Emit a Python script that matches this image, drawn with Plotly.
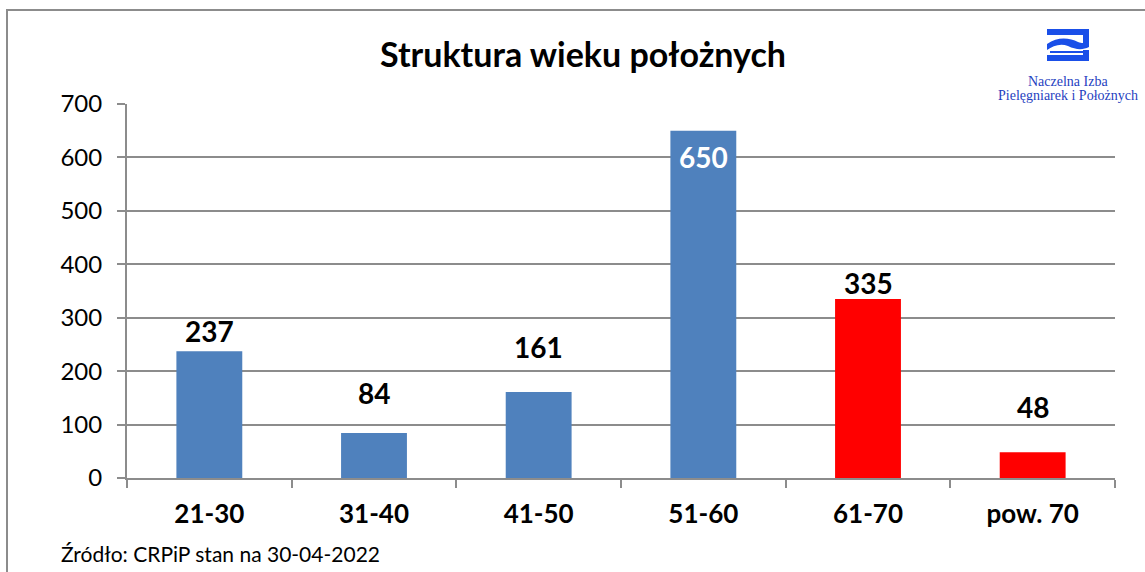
import plotly.graph_objects as go

categories = ["21-30", "31-40", "41-50", "51-60", "61-70", "pow. 70"]
values = [237, 84, 161, 650, 335, 48]
bar_colors = ["#4F81BD", "#4F81BD", "#4F81BD", "#4F81BD", "#FF0000", "#FF0000"]
y_ticks = [0, 100, 200, 300, 400, 500, 600, 700]

# label styling (pixel shifts from bar top, colour)
label_shift = [20, 40, 45, -26, 16, 45]
label_color = ["black", "black", "black", "white", "black", "black"]

FONT = "Lato, Carlito, Calibri, sans-serif"
W, H = 1145, 572
L, R, T, B = 127, 30, 104, 94
PW, PH = W - L - R, H - T - B

def px(x):
    return (x - L) / PW

def py(y):
    return (H - B - y) / PH

fig = go.Figure()
fig.add_trace(go.Bar(
    x=categories, y=values, marker=dict(color=bar_colors, line=dict(width=0)),
    width=0.4, hoverinfo="x+y"))

for c, v, s, col in zip(categories, values, label_shift, label_color):
    fig.add_annotation(x=c, y=v, yshift=s, text=f"<b>{v}</b>", showarrow=False,
                       font=dict(family=FONT, size=28, color=col), yanchor="middle")

shapes = []
# outer chart border (partially visible)
shapes.append(dict(type="rect", xref="paper", yref="paper",
                   x0=px(7), x1=px(1160), y0=py(10), y1=py(600),
                   line=dict(color="#8C8C8C", width=2), fillcolor="rgba(0,0,0,0)", layer="below"))

# logo
logo_col = "#1A4FE8"
def rectpx(x0, y0, x1, y1):
    return dict(type="rect", xref="paper", yref="paper", x0=px(x0), x1=px(x1),
                y0=py(y1), y1=py(y0), line=dict(width=0), fillcolor=logo_col)
shapes.append(rectpx(1047, 29, 1089, 35))
shapes.append(rectpx(1083, 29, 1089, 46))
shapes.append(rectpx(1083, 50, 1089, 61))
shapes.append(rectpx(1047, 55, 1089, 61))
shapes.append(rectpx(1050, 51, 1087, 53))
# wave
wave = (f"M {px(1047)},{py(44)} C {px(1058)},{py(36)} {px(1070)},{py(38)} {px(1078)},{py(42)} "
        f"C {px(1083)},{py(44)} {px(1086)},{py(43)} {px(1089)},{py(41)} "
        f"L {px(1089)},{py(47)} C {px(1083)},{py(50)} {px(1076)},{py(50)} {px(1068)},{py(46)} "
        f"C {px(1060)},{py(43)} {px(1053)},{py(46)} {px(1047)},{py(50)} Z")
shapes.append(dict(type="path", xref="paper", yref="paper", path=wave,
                   line=dict(width=0), fillcolor=logo_col))

fig.update_layout(
    width=W, height=H,
    margin=dict(l=L, r=R, t=T, b=B),
    paper_bgcolor="white", plot_bgcolor="white",
    showlegend=False, bargap=0.6,
    shapes=shapes,
    title=dict(text="<b>Struktura wieku położnych</b>", x=(583) / W, xanchor="center",
               y=1 - 55 / H, yanchor="middle",
               font=dict(family=FONT, size=34, color="black")),
    xaxis=dict(type="category", tickson="boundaries", ticks="outside", ticklen=8,
               tickcolor="#8C8C8C", tickwidth=2, showline=True, linecolor="#8C8C8C", linewidth=2,
               showgrid=False, tickfont=dict(family=FONT, size=26, color="black"),
               tickprefix="<b>", ticksuffix="</b>", ticklabelstandoff=12),
    yaxis=dict(range=[0, 700], tickvals=y_ticks, ticks="outside", ticklen=8,
               tickcolor="#8C8C8C", tickwidth=2, showline=True, linecolor="#8C8C8C", linewidth=2,
               showgrid=True, gridcolor="#8C8C8C", gridwidth=2, zeroline=False,
               tickfont=dict(family=FONT, size=24, color="black"), ticklabelstandoff=10),
)

fig.add_annotation(xref="paper", yref="paper", x=px(59), y=py(553), xanchor="left", yanchor="middle",
                   text="Źródło: CRPiP stan na 30-04-2022", showarrow=False,
                   font=dict(family=FONT, size=21, color="black"))
fig.add_annotation(xref="paper", yref="paper", x=px(1068), y=py(81), xanchor="center", yanchor="middle",
                   text="Naczelna Izba", showarrow=False,
                   font=dict(family="Liberation Serif, Times New Roman, serif", size=14, color="#1F3FBF"))
fig.add_annotation(xref="paper", yref="paper", x=px(1068), y=py(96), xanchor="center", yanchor="middle",
                   text="Pielęgniarek i Położnych", showarrow=False,
                   font=dict(family="Liberation Serif, Times New Roman, serif", size=14, color="#1F3FBF"))

fig.write_html("out.html", config={"displayModeBar": False})

# remove default page margin so the figure sits at the window origin
with open("out.html", "r", encoding="utf-8") as f:
    html = f.read()
html = html.replace("<body>", '<body style="margin:0;overflow:hidden">', 1)
with open("out.html", "w", encoding="utf-8") as f:
    f.write(html)
